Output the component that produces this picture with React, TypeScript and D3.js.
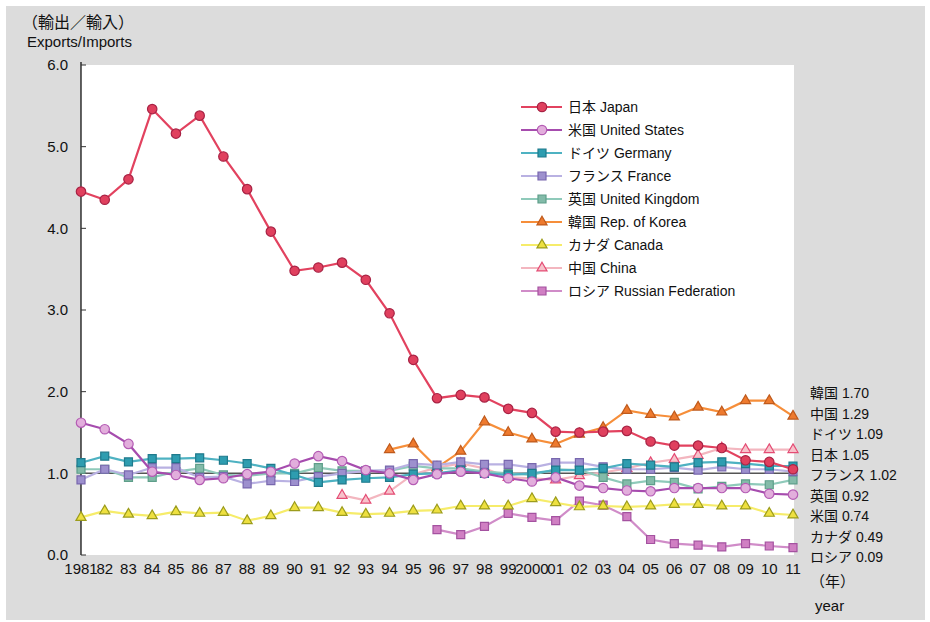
import React from "react";
import * as d3 from "d3";

const years = [1981,1982,1983,1984,1985,1986,1987,1988,1989,1990,1991,1992,1993,1994,1995,1996,1997,1998,1999,2000,2001,2002,2003,2004,2005,2006,2007,2008,2009,2010,2011];
const yearLabels = ["1981","82","83","84","85","86","87","88","89","90","91","92","93","94","95","96","97","98","99","2000","01","02","03","04","05","06","07","08","09","10","11"];
const yTicks = [0,1,2,3,4,5,6];

const N = null;
const japan = [4.45,4.35,4.60,5.46,5.16,5.38,4.88,4.48,3.96,3.48,3.52,3.58,3.37,2.96,2.39,1.92,1.96,1.93,1.79,1.74,1.51,1.50,1.51,1.52,1.39,1.34,1.34,1.31,1.16,1.14,1.05];
const usa = [1.62,1.54,1.36,1.02,0.98,0.92,0.94,0.99,1.02,1.12,1.21,1.15,1.04,1.00,0.92,0.99,1.02,1.00,0.94,0.90,0.95,0.85,0.82,0.79,0.78,0.82,0.82,0.82,0.82,0.75,0.74];
const germany = [1.13,1.21,1.14,1.18,1.18,1.19,1.16,1.12,1.06,0.98,0.89,0.92,0.94,0.95,0.99,1.00,1.04,1.00,0.98,1.00,1.04,1.04,1.06,1.12,1.10,1.08,1.13,1.14,1.12,1.09,1.09];
const france = [0.92,1.05,0.98,1.07,1.07,0.95,0.96,0.87,0.91,0.90,0.96,1.00,1.03,1.04,1.12,1.10,1.14,1.11,1.11,1.07,1.13,1.13,1.08,1.05,1.05,1.07,1.04,1.08,1.05,1.05,1.02];
const uk = [1.05,1.05,0.95,0.95,1.02,1.06,0.98,0.97,1.00,1.00,1.07,1.03,1.03,1.03,1.09,1.06,1.06,1.02,1.00,0.98,1.05,1.04,0.95,0.87,0.91,0.89,0.81,0.84,0.87,0.86,0.92];
const korea = [N,N,N,N,N,N,N,N,N,N,N,N,N,1.29,1.36,1.07,1.27,1.63,1.50,1.42,1.36,1.48,1.56,1.77,1.72,1.69,1.81,1.75,1.89,1.89,1.70];
const canada = [0.46,0.54,0.50,0.48,0.53,0.51,0.52,0.42,0.48,0.58,0.58,0.52,0.50,0.51,0.54,0.55,0.60,0.60,0.60,0.69,0.64,0.59,0.60,0.59,0.60,0.62,0.62,0.60,0.60,0.51,0.49];
const china = [N,N,N,N,N,N,N,N,N,N,N,0.73,0.67,0.78,0.99,1.07,1.12,1.06,0.95,0.94,0.92,0.97,1.01,1.06,1.13,1.17,1.22,1.31,1.29,1.29,1.29];
const russia = [N,N,N,N,N,N,N,N,N,N,N,N,N,N,N,0.31,0.25,0.35,0.51,0.46,0.42,0.66,0.61,0.47,0.19,0.14,0.12,0.10,0.14,0.11,0.09];

const legendNames = ["日本 Japan","米国 United States","ドイツ Germany","フランス France","英国 United Kingdom","韓国 Rep. of Korea","カナダ Canada","中国 China","ロシア Russian Federation"];
const rightLabels = ["韓国 1.70","中国 1.29","ドイツ 1.09","日本 1.05","フランス 1.02","英国 0.92","米国 0.74","カナダ 0.49","ロシア 0.09"];

type Shape = "circle" | "square" | "triangle";
const seriesData = [japan, usa, germany, france, uk, korea, canada, china, russia];
const shapes: Shape[] = ["circle","circle","square","square","square","triangle","triangle","triangle","square"];
const lineColors = ["#E2425F","#A64CAE","#4EB2C2","#B9B1E2","#8FCABA","#F68E3A","#F6EC6A","#F3B6BF","#D08CC8"];
const fillColors = ["#E0405E","#E2AEDC","#2E9DB0","#9D90CE","#83BBA9","#EE7A2E","#EEE040","#F7C2CB","#D07FC3"];
const strokeColors = ["#A82244","#B45CB4","#1F7A8C","#7867AE","#5E9E8A","#BF5A1C","#9C9C1C","#E44C74","#A452A0"];

const FONT = "'Liberation Sans', Arial, 'Noto Sans CJK JP', sans-serif";

const symbolFor = (s: Shape) => {
  if (s === "circle") return d3.symbol().type(d3.symbolCircle).size(70)();
  if (s === "square") return d3.symbol().type(d3.symbolSquare).size(64)();
  return d3.symbol().type(d3.symbolTriangle).size(44)();
};

export default function App() {
  const x = d3.scaleLinear().domain([1981, 2011]).range([81, 793]);
  const y = d3.scaleLinear().domain([0, 6]).range([555, 65]);
  const line = d3.line<number | null>()
    .defined((d) => d !== null)
    .x((_, i) => x(years[i]))
    .y((d) => y(d as number));

  const order = [8, 7, 6, 5, 4, 3, 2, 1, 0];

  return (
    <svg width={930} height={622} style={{ position: "absolute", left: 0, top: 0 }} fontFamily={FONT}>
      <rect x={6} y={6} width={919} height={614} fill="#DCDCDC" />
      <rect x={81} y={y(6)} width={713} height={y(0) - y(6)} fill="#FFFFFF" />
      <text x={22} y={28} fontSize={16} fill="#111">（輸出／輸入）</text>
      <text x={27} y={47} fontSize={15} fill="#111">Exports/Imports</text>

      {/* y axis */}
      <line x1={81} x2={81} y1={y(6) - 3} y2={y(0)} stroke="#000" strokeWidth={1.2} />
      {yTicks.map((t) => (
        <g key={t}>
          <line x1={81} x2={86} y1={y(t)} y2={y(t)} stroke="#333" strokeWidth={1} />
          <text x={68} y={y(t)} dy="0.36em" textAnchor="end" fontSize={15} fill="#111">{t.toFixed(1)}</text>
        </g>
      ))}
      {years.map((yr, i) => (
        <text key={yr} x={x(yr)} y={574} textAnchor="middle" fontSize={15} fill="#111">{yearLabels[i]}</text>
      ))}

      {/* reference line at 1.0 */}
      <line x1={81} x2={794} y1={y(1)} y2={y(1)} stroke="#555" strokeWidth={1.5} />

      {order.map((si) => {
        const data = seriesData[si];
        return (
          <g key={si}>
            <path d={line(data) || ""} fill="none" stroke={lineColors[si]} strokeWidth={2.2} />
            {data.map((v, i) =>
              v === null ? null : (
                <path key={i} d={symbolFor(shapes[si]) || ""} transform={`translate(${x(years[i])},${y(v)})`}
                  fill={fillColors[si]} stroke={strokeColors[si]} strokeWidth={1.2} />
              )
            )}
          </g>
        );
      })}

      {/* legend */}
      {legendNames.map((name, i) => {
        const ly = 107 + i * 23;
        return (
          <g key={name}>
            <line x1={521} x2={562} y1={ly} y2={ly} stroke={lineColors[i]} strokeWidth={2.2} />
            <path d={symbolFor(shapes[i]) || ""} transform={`translate(542,${ly})`} fill={fillColors[i]} stroke={strokeColors[i]} strokeWidth={1.2} />
            <text x={568} y={ly} dy="0.36em" fontSize={14} fill="#111">{name}</text>
          </g>
        );
      })}

      {/* right labels */}
      {rightLabels.map((t, i) => (
        <text key={t} x={810} y={393 + i * 20.5} dy="0.36em" fontSize={14} fill="#111">{t}</text>
      ))}
      <text x={810} y={582} dy="0.36em" fontSize={15} fill="#111">（年）</text>
      <text x={815} y={606} dy="0.36em" fontSize={15} fill="#111">year</text>
    </svg>
  );
}
